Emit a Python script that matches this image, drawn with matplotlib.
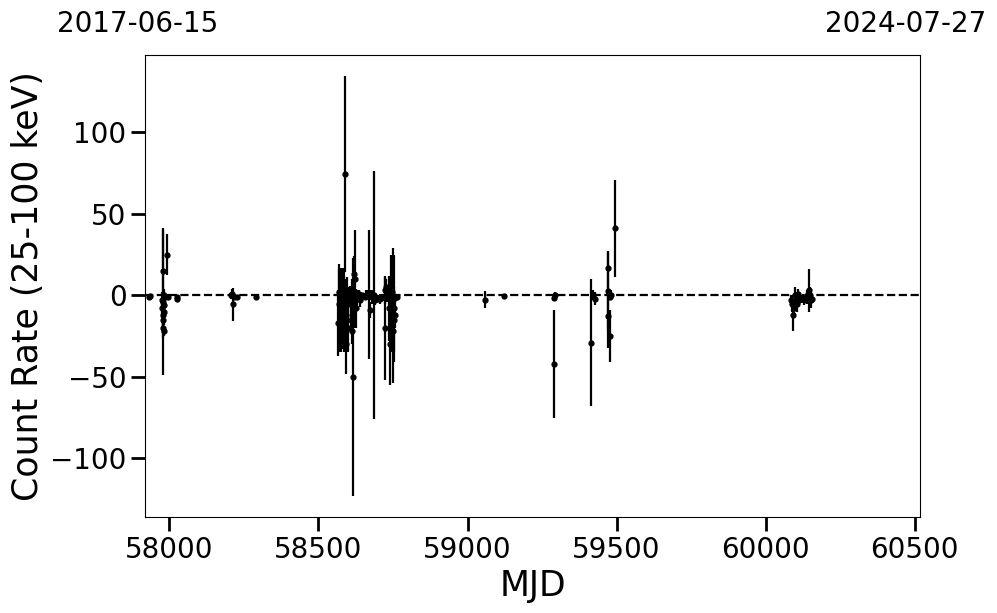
import numpy as np
from matplotlib import pyplot as plt

# MJD, count rate and 1-sigma error of each point
mjd = [57933, 57935, 57975, 57976, 57977, 57978, 57978.5, 57979, 57980, 57980.5,
       57981, 57982, 57983, 57984, 57993, 57995, 58025, 58027,
       58205, 58210, 58212, 58215, 58227, 58290,
       58565, 58568, 58570, 58572, 58574, 58576, 58578, 58580, 58582, 58584,
       58586, 58588, 58590, 58592, 58594, 58596, 58598, 58600, 58603, 58605,
       58608, 58611, 58614, 58617, 58618, 58622, 58625, 58630, 58635, 58640,
       58645, 58655, 58660, 58665, 58671, 58672, 58676, 58681, 58687, 58690, 58700,
       58705, 58712, 58718, 58722, 58724, 58727, 58731, 58735, 58738, 58741,
       58743, 58745, 58747, 58749, 58751, 58753, 58755, 58757, 58759, 58763,
       59059, 59121, 59289, 59290, 59292,
       59415, 59420, 59428, 59470, 59471, 59472, 59477, 59479, 59481, 59496,
       60085, 60090, 60093, 60096, 60099, 60102, 60105, 60108, 60112, 60118,
       60124, 60130, 60138, 60142, 60145, 60148, 60152, 60155]
rate = [-1, -0.5, -3, -8, -12, 15, -4, -15, -20, -10,
        0, -6, -22, -1, 25, -1, -2, -1,
        0, 1, -5.5, -1, -1, -1,
        -17, -5, 2, -10, 0, -20, -3, -15, 5, -8,
        -25, 74.5, -2, -30, -12, 3, -5, -20, -1, 0,
        -15, -4, -22, -50, 13, 10, -8, -2, 1, -3,
        0, -1, 0, 1, 0.5, -9, 0, -1, 0, -3, -2,
        -2, -1, -1, 3, -20, 5, -1, 0, -8, -30,
        -5, -12, 2, -22, -3, -8, -15, -12, -1, -1,
        -2.6, -0.6, -42, -1.7, 0,
        -29, 0, -2, 2.5, 17, -12.5, -1, -25, 0, 41,
        -3, -5, -12, -8, 0, -3, -5, 1, -3, -2,
        -1, -3, -1, 1, 3, 0, -3, -2]
err = [1.5, 1, 5, 6, 10, 25, 45, 8, 6, 8,
       4, 5, 3, 2, 12.5, 2, 2, 1.5,
       2, 3, 10, 2, 1.5, 1,
       20, 24, 14, 25, 17, 15, 20, 18, 10, 25,
       10, 60, 12, 18, 20, 8, 10, 15, 4, 6,
       8, 14, 8, 73, 11, 30, 12, 5, 2, 4,
       1.5, 2, 3, 2, 39.5, 5, 3, 4, 76, 3, 2,
       3, 2, 2, 8, 32, 5, 3, 4, 20, 25,
       30, 20, 4, 32, 32, 33, 20, 8, 2, 2,
       5, 1, 33, 2, 2,
       39, 3, 4, 24, 10, 20, 2, 16, 3, 30,
       3, 5, 10, 6, 5, 4, 5, 3, 3, 2,
       2, 3, 4, 3, 13, 5, 5, 2]

mjd_start, mjd_end = 57919, 60518
date_start, date_end = '2017-06-15', '2024-07-27'

fig = plt.figure(figsize=(9.97, 6.13), dpi=100)
ax = fig.add_axes([0.1457, 0.1566, 0.7771, 0.7537])

ax.errorbar(mjd, rate, yerr=err, fmt='o', color='k', ms=3.5,
            elinewidth=1.6, capsize=0, zorder=3)
ax.axhline(0, color='k', ls='--', lw=1.6, zorder=2)

ax.set_xlim(mjd_start, mjd_end)
ax.set_xticks([58000, 58500, 59000, 59500, 60000, 60500])
ax.set_xlabel('MJD', fontsize=25)
ax.set_ylabel('Count Rate (25-100 keV)', fontsize=25)
ax.tick_params(labelsize=20, length=10, width=2)

fig.text(57 / 997, 1 - 32 / 613, date_start, fontsize=20, ha='left', va='baseline')
fig.text(986 / 997, 1 - 32 / 613, date_end, fontsize=20, ha='right', va='baseline')

fig.savefig('out.png', dpi=100)
